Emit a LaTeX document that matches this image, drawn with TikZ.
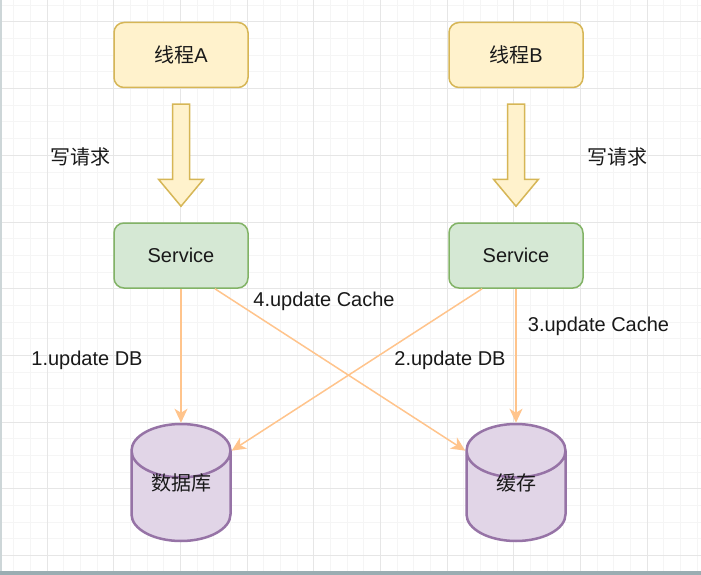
\documentclass[tikz,border=0pt]{standalone}
\usepackage{fontspec}
\setmainfont{Liberation Sans}
\newfontfamily\cjk{Noto Sans CJK SC}
\usetikzlibrary{arrows.meta,calc,shapes.geometric}
\definecolor{thrfill}{HTML}{FFF2CC}
\definecolor{thrline}{HTML}{D6B656}
\definecolor{svcfill}{HTML}{D5E8D4}
\definecolor{svcline}{HTML}{82B366}
\definecolor{dbfill}{HTML}{E1D5E7}
\definecolor{dbline}{HTML}{9673A6}
\definecolor{flowc}{HTML}{FFC48C}
\definecolor{minorc}{HTML}{F5F5F5}
\definecolor{majorc}{HTML}{E6E6E6}
\definecolor{framec}{HTML}{9AADB2}
\tikzset{
  txt/.style={font=\fontsize{20}{24}\selectfont, text=black!90},
  thread/.style={txt, draw=thrline, fill=thrfill, line width=1.5pt, rounded corners=10pt,
    minimum width=134pt, minimum height=65pt},
  service/.style={txt, draw=svcline, fill=svcfill, line width=1.5pt, rounded corners=10pt,
    minimum width=134pt, minimum height=65pt},
  store/.style={cylinder, shape border rotate=90, draw=dbline, fill=dbfill, line width=2.5pt,
    minimum width=99pt, minimum height=117pt, aspect=0.8, anchor=shape center,
    text width=60pt, text height=6pt, text depth=22pt},
  fatarrow/.style={draw=thrline, fill=thrfill, line width=1.5pt, line join=miter},
  flow/.style={draw=flowc, line width=1.5pt, -{Stealth[length=14pt,width=13pt,inset=4pt]}},
  lbl/.style={txt, inner sep=0pt}
}
\begin{document}
\begin{tikzpicture}[x=1pt,y=-1pt]
\useasboundingbox (0,0) rectangle (701,575);
\fill[white] (0,0) rectangle (701,575);
\foreach \i in {0,...,42} \draw[minorc, line width=1pt] ({-3+\i*16.6667},0) -- ++(0,575);
\foreach \i in {0,...,34} \draw[minorc, line width=1pt] (0,{5.333+\i*16.6667}) -- ++(701,0);
\foreach \i in {0,...,11} \draw[majorc, line width=1pt] ({-19.667+\i*66.6667},0) -- ++(0,575);
\foreach \i in {0,...,9} \draw[majorc, line width=1pt] (0,{-44.667+\i*66.6667}) -- ++(701,0);
\fill[framec] (0,571) rectangle (701,575);
\fill[framec!50] (0,0) rectangle (2,571);

\node[thread] (thrA) at (181,55) {{\cjk 线程}A};
\node[thread] (thrB) at (516,55) {{\cjk 线程}B};
\node[service] (svcA) at (181,255.5) {Service};
\node[service] (svcB) at (516,255.5) {Service};
\node[store] (db) at (181,482.5) {};
\node[store] (cache) at (516,482.5) {};
\node[lbl] (dbtext) at (db.shape center) {\cjk 数据库};
\node[lbl] (cachetext) at (cache.shape center) {\cjk 缓存};

\foreach \t/\s in {thrA/svcA, thrB/svcB}
  \draw[fatarrow] ($(\t.south)+(-8.5,16)$) -- ($(\t.south)+(8.5,16)$) -- ($(\s.north)+(8.5,-43)$)
    -- ($(\s.north)+(22.5,-43)$) -- ($(\s.north)+(0,-16)$) -- ($(\s.north)+(-22.5,-43)$)
    -- ($(\s.north)+(-8.5,-43)$) -- cycle;

\node[lbl] (reqA) at (80,157) {\cjk 写请求};
\node[lbl] (reqB) at (617,157) {\cjk 写请求};
\node[lbl, anchor=base] (l1) at (87,365) {1.update DB};
\node[lbl, anchor=base] (l2) at (450,365) {2.update DB};
\node[lbl, anchor=base] (l3) at (598.5,331) {3.update Cache};
\node[lbl, anchor=base] (l4) at (324,306) {4.update Cache};

\draw[flow] (svcA.south) -- (db.top);
\draw[flow] ($(svcB.south)!0.5!(svcB.south west)$) -- (db.after top);
\draw[flow] (svcB.south) -- (cache.top);
\draw[flow] ($(svcA.south)!0.5!(svcA.south east)$) -- (cache.before top);
\end{tikzpicture}
\end{document}
